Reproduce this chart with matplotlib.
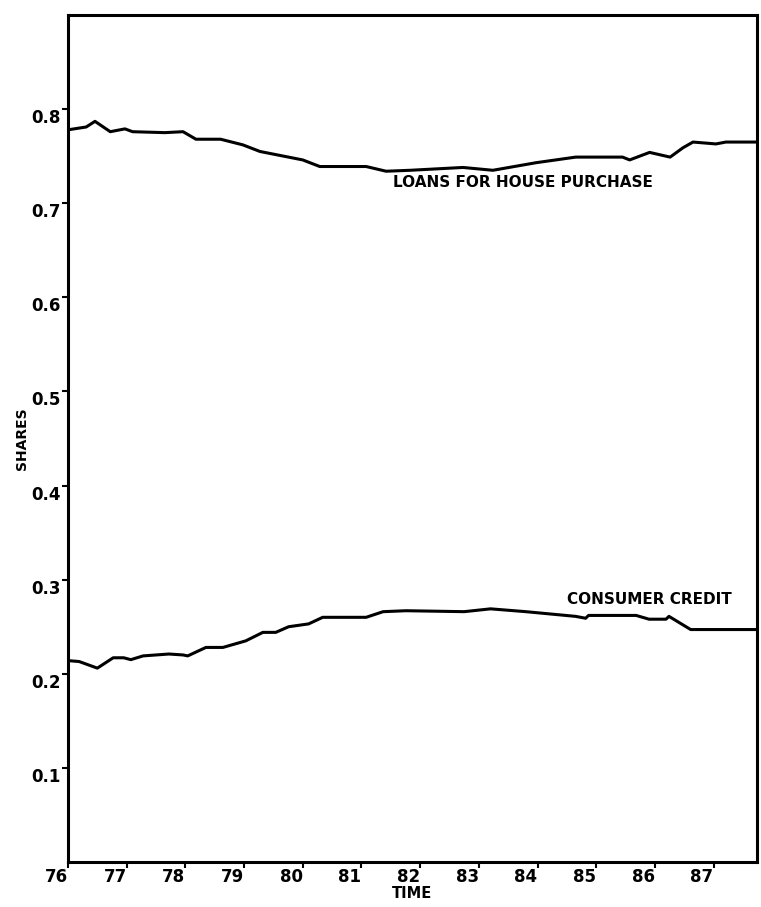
import numpy as np
import matplotlib
matplotlib.use('Agg')
import matplotlib.pyplot as plt

# shares
loans_t = [76.0, 76.31, 76.46, 76.72, 76.97, 77.1, 77.65, 77.96, 78.18, 78.6,
           78.98, 79.27, 80.0, 80.29, 81.08, 81.42, 81.83, 82.73, 83.24, 83.97,
           84.65, 85.45, 85.57, 85.91, 86.26, 86.48, 86.65, 87.04, 87.21, 87.75]
loans = [0.778, 0.781, 0.787, 0.776, 0.779, 0.776, 0.775, 0.776, 0.768, 0.768,
         0.762, 0.755, 0.746, 0.739, 0.739, 0.734, 0.735, 0.738, 0.735, 0.743,
         0.749, 0.749, 0.746, 0.754, 0.749, 0.759, 0.765, 0.763, 0.765, 0.765]

credit_t = [76.0, 76.19, 76.5, 76.77, 76.95, 77.07, 77.28, 77.72, 77.96, 78.04,
            78.35, 78.64, 79.03, 79.32, 79.54, 79.76, 80.1, 80.34, 81.08, 81.37,
            81.76, 82.75, 83.2, 83.8, 84.65, 84.82, 84.87, 85.68, 85.9, 86.19,
            86.24, 86.61, 87.75]
credit = [0.214, 0.213, 0.206, 0.217, 0.217, 0.215, 0.219, 0.221, 0.220, 0.219,
          0.228, 0.228, 0.235, 0.244, 0.244, 0.250, 0.253, 0.260, 0.260, 0.266,
          0.267, 0.266, 0.269, 0.266, 0.261, 0.259, 0.262, 0.262, 0.258, 0.258,
          0.261, 0.247, 0.247]

xticks = list(range(76, 88))
yticks = [0.1, 0.2, 0.3, 0.4, 0.5, 0.6, 0.7, 0.8]

fig = plt.figure(figsize=(7.61, 9.07), dpi=100)
ax = fig.add_axes([68 / 761, 45 / 907, (757 - 68) / 761, (862 - 15) / 907])

ax.plot(loans_t, loans, color='black', linewidth=2.2)
ax.plot(credit_t, credit, color='black', linewidth=2.2)

ax.set_xlim(76, 87.74)
ax.set_ylim(0, 0.9)

for s in ax.spines.values():
    s.set_linewidth(2.2)

ax.set_xticks(xticks)
ax.set_xticklabels([str(t) for t in xticks], fontweight='bold', fontsize=12)
ax.set_yticks(yticks)
ax.set_yticklabels(['0.%d' % int(round(v * 10)) for v in yticks],
                   fontweight='bold', fontsize=12)
ax.tick_params(axis='both', direction='out', length=4, width=1.5)
ax.tick_params(axis='x', pad=0)
ax.tick_params(axis='y', pad=1)
for lab in ax.get_xticklabels():
    lab.set_ha('right')
for lab in ax.get_yticklabels():
    lab.set_va('top')

ax.set_xlabel('TIME', fontweight='bold', fontsize=10.5, labelpad=0.5)
ax.set_ylabel('SHARES', fontweight='bold', fontsize=10, labelpad=2)

ax.text(81.54, 0.722, 'LOANS FOR HOUSE PURCHASE', fontweight='bold',
        fontsize=11, va='center', ha='left')
ax.text(84.5, 0.279, 'CONSUMER CREDIT', fontweight='bold',
        fontsize=11, va='center', ha='left')

fig.savefig('out.png', dpi=100)
